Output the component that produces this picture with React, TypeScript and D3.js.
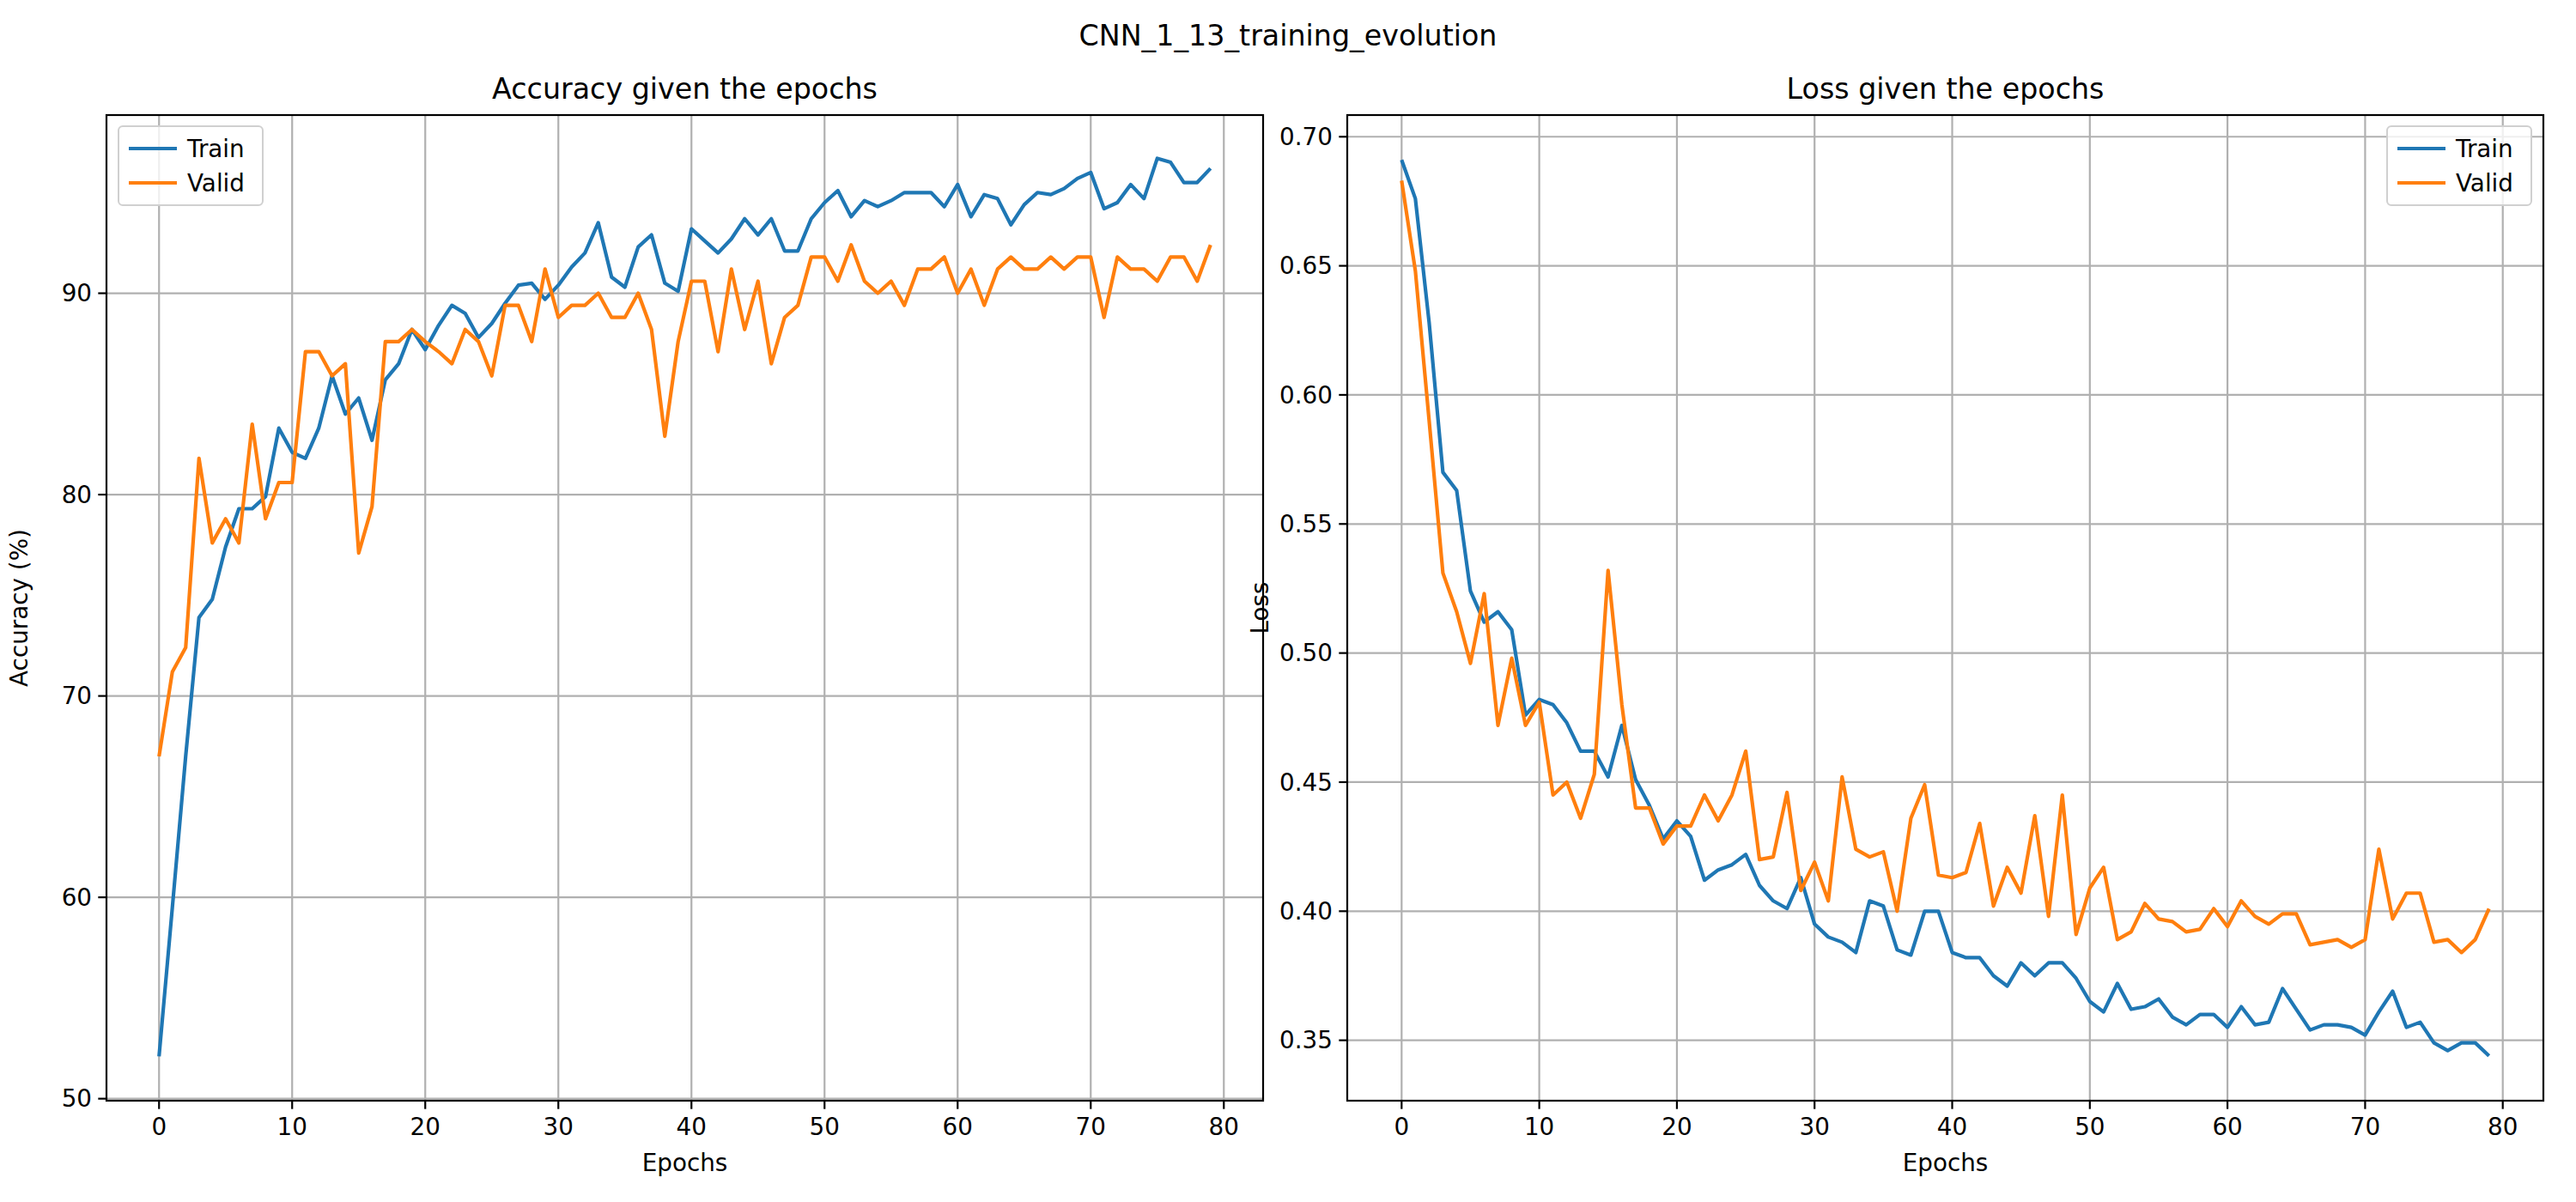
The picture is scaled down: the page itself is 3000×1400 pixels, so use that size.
import React from "react";
import * as d3 from "d3";

const epochs = d3.range(80);

const accTrain = [52.1,59.5,67,73.9,74.8,77.4,79.3,79.3,79.9,83.3,82.1,81.8,83.3,85.9,84.0,84.8,82.7,85.7,86.5,88.2,87.2,88.4,89.4,89.0,87.8,88.5,89.5,90.4,90.5,89.7,90.4,91.3,92.0,93.5,90.8,90.3,92.3,92.9,90.5,90.1,93.2,92.6,92.0,92.7,93.7,92.9,93.7,92.1,92.1,93.7,94.5,95.1,93.8,94.6,94.3,94.6,95.0,95.0,95.0,94.3,95.4,93.8,94.9,94.7,93.4,94.4,95.0,94.9,95.2,95.7,96.0,94.2,94.5,95.4,94.7,96.7,96.5,95.5,95.5,96.2];
const accValid = [67.0,71.2,72.4,81.8,77.6,78.8,77.6,83.5,78.8,80.6,80.6,87.1,87.1,85.9,86.5,77.1,79.4,87.6,87.6,88.2,87.6,87.1,86.5,88.2,87.6,85.9,89.4,89.4,87.6,91.2,88.8,89.4,89.4,90.0,88.8,88.8,90.0,88.2,82.9,87.6,90.6,90.6,87.1,91.2,88.2,90.6,86.5,88.8,89.4,91.8,91.8,90.6,92.4,90.6,90.0,90.6,89.4,91.2,91.2,91.8,90.0,91.2,89.4,91.2,91.8,91.2,91.2,91.8,91.2,91.8,91.8,88.8,91.8,91.2,91.2,90.6,91.8,91.8,90.6,92.4];
const lossTrain = [.691,.676,.628,.570,.563,.524,.512,.516,.509,.476,.482,.480,.473,.462,.462,.452,.472,.451,.441,.428,.435,.429,.412,.416,.418,.422,.410,.404,.401,.413,.395,.390,.388,.384,.404,.402,.385,.383,.400,.400,.384,.382,.382,.375,.371,.380,.375,.380,.380,.374,.365,.361,.372,.362,.363,.366,.359,.356,.360,.360,.355,.363,.356,.357,.370,.362,.354,.356,.356,.355,.352,.361,.369,.355,.357,.349,.346,.349,.349,.344];
const lossValid = [.683,.648,.590,.531,.516,.496,.523,.472,.498,.472,.481,.445,.450,.436,.453,.532,.480,.440,.440,.426,.433,.433,.445,.435,.445,.462,.420,.421,.446,.408,.419,.404,.452,.424,.421,.423,.400,.436,.449,.414,.413,.415,.434,.402,.417,.407,.437,.398,.445,.391,.409,.417,.389,.392,.403,.397,.396,.392,.393,.401,.394,.404,.398,.395,.399,.399,.387,.388,.389,.386,.389,.424,.397,.407,.407,.388,.389,.384,.389,.401];

const xTicks = [0, 10, 20, 30, 40, 50, 60, 70, 80];
const accTicks = [50, 60, 70, 80, 90];
const lossTicks = [0.35, 0.4, 0.45, 0.5, 0.55, 0.6, 0.65, 0.7];

const BLUE = "#1f77b4";
const ORANGE = "#ff7f0e";
const FONT = "DejaVu Sans";
const FS = 27.8;

function Panel({ left, right, title, ylabel, domain, ticks, fmt, train, valid, legendRight }: any) {
  const top = 134, bottom = 1282;
  const x = d3.scaleLinear().domain([-3.95, 82.95]).range([left, right]);
  const y = d3.scaleLinear().domain(domain).range([bottom, top]);
  const line = d3.line<number>().x((_, i) => x(epochs[i])).y((d) => y(d));
  const lw = 2.2;
  const lgW = 168, lgH = 92;
  const lgX = legendRight ? right - 14 - lgW : left + 14;
  const lgY = top + 13;
  return (
    <g fontFamily={FONT}>
      {xTicks.map((t) => (
        <g key={"x" + t}>
          <line x1={x(t)} x2={x(t)} y1={top} y2={bottom} stroke="#b0b0b0" strokeWidth={lw} />
          <line x1={x(t)} x2={x(t)} y1={bottom} y2={bottom + 9.7} stroke="#000" strokeWidth={lw} />
          <text x={x(t)} y={bottom + 40} fontSize={FS} textAnchor="middle">{t}</text>
        </g>
      ))}
      {ticks.map((t: number) => (
        <g key={"y" + t}>
          <line x1={left} x2={right} y1={y(t)} y2={y(t)} stroke="#b0b0b0" strokeWidth={lw} />
          <line x1={left - 9.7} x2={left} y1={y(t)} y2={y(t)} stroke="#000" strokeWidth={lw} />
          <text x={left - 17} y={y(t)} dy="0.35em" fontSize={FS} textAnchor="end">{fmt(t)}</text>
        </g>
      ))}
      <path d={line(train)!} fill="none" stroke={BLUE} strokeWidth={4.2} strokeLinejoin="round" />
      <path d={line(valid)!} fill="none" stroke={ORANGE} strokeWidth={4.2} strokeLinejoin="round" />
      <rect x={left} y={top} width={right - left} height={bottom - top} fill="none" stroke="#000" strokeWidth={lw} />
      <text x={(left + right) / 2} y={115} fontSize={33.3} textAnchor="middle">{title}</text>
      <text x={(left + right) / 2} y={1364} fontSize={FS} textAnchor="middle">Epochs</text>
      <text transform={`translate(${left - 92},${(top + bottom) / 2}) rotate(-90)`} fontSize={FS} textAnchor="middle">{ylabel}</text>
      <rect x={lgX} y={lgY} width={lgW} height={lgH} rx={5} fill="#fff" fillOpacity={0.8} stroke="#d0d0d0" strokeWidth={2} />
      {[["Train", BLUE], ["Valid", ORANGE]].map(([n, c], i) => (
        <g key={n}>
          <line x1={lgX + 12} x2={lgX + 68} y1={lgY + 26 + i * 40} y2={lgY + 26 + i * 40} stroke={c} strokeWidth={4.2} />
          <text x={lgX + 80} y={lgY + 26 + i * 40} dy="0.35em" fontSize={FS}>{n}</text>
        </g>
      ))}
    </g>
  );
}

export default function App() {
  return (
    <svg width={3000} height={1400} style={{ display: "block", margin: "-8px" }}>
      <rect width={3000} height={1400} fill="#fff" />
      <text x={1500} y={53} fontSize={33.3} textAnchor="middle" fontFamily={FONT}>CNN_1_13_training_evolution</text>
      <Panel left={124} right={1471} title="Accuracy given the epochs" ylabel="Accuracy (%)"
        domain={[49.9, 98.85]} ticks={accTicks} fmt={(t: number) => String(t)}
        train={accTrain} valid={accValid} legendRight={false} />
      <Panel left={1569} right={2962} title="Loss given the epochs" ylabel="Loss"
        domain={[0.3266, 0.7084]} ticks={lossTicks} fmt={(t: number) => t.toFixed(2)}
        train={lossTrain} valid={lossValid} legendRight={true} />
    </svg>
  );
}
